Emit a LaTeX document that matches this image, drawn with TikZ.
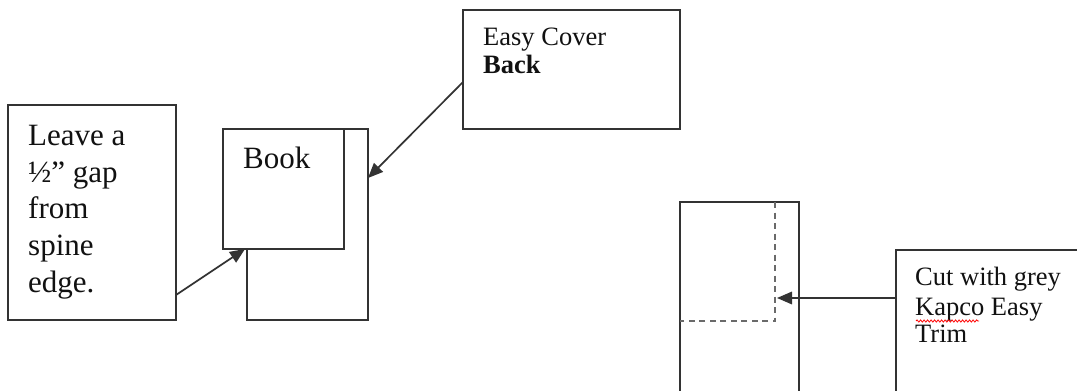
\documentclass[tikz,border=0pt]{standalone}
\usepackage{fontspec}
\setmainfont{Liberation Serif}
\usetikzlibrary{arrows.meta,calc,decorations.pathmorphing}
\definecolor{boxline}{HTML}{333333}
\definecolor{dashgrey}{HTML}{6A6A6A}
\definecolor{txt}{HTML}{111111}
\tikzset{
  box/.style={draw=boxline, line width=1.8pt, inner sep=0pt, outer sep=0pt, rectangle},
  conn/.style={draw=boxline, line width=1.7pt, -{Triangle[length=15pt,width=12.5pt]}},
  cutline/.style={draw=dashgrey, line width=2.2pt, dash pattern=on 6pt off 4.5pt},
  bigtxt/.style={anchor=base west, inner sep=0pt, text=txt, font=\fontsize{31}{36}\selectfont},
  smalltxt/.style={anchor=base west, inner sep=0pt, text=txt, font=\fontsize{26.5}{29}\selectfont},
}
\begin{document}
\begin{tikzpicture}[x=1pt,y=-1pt]
\useasboundingbox[fill=white] (0,0) rectangle (1077,391);
% boxes
\node[box, minimum width=168pt, minimum height=215pt] (left) at (92,212.5) {};
\node[box, minimum width=121pt, minimum height=191pt] (back) at (307.5,224.5) {};
\node[box, fill=white, minimum width=121pt, minimum height=120pt] (front) at (283.5,189) {};
\node[box, minimum width=217pt, minimum height=119pt] (cover) at (571.5,69.5) {};
\node[box, minimum width=119pt, minimum height=258pt] (trim) at (739.5,331) {};
\node[box, minimum width=194pt, minimum height=210pt] (cut) at (993,355) {};
% dashed cut line
\draw[cutline] ([xshift=95pt]trim.north west) -- ([xshift=95pt,yshift=-119pt]trim.north west) -- ([yshift=-119pt]trim.north west);
\coordinate (dashV) at ([xshift=97pt,yshift=-96pt]trim.north west);
% texts
\node[bigtxt] (l1) at (28,145) {Leave a};
\node[bigtxt] (l2) at (28,182) {½” gap};
\node[bigtxt] (l3) at (28,218) {from};
\node[bigtxt] (l4) at (28,255) {spine};
\node[bigtxt] (l5) at (28,292) {edge.};
\node[bigtxt] (book) at (243,168) {Book};
\node[smalltxt] (c1) at (483,45) {Easy Cover};
\node[smalltxt, font=\fontsize{26.5}{29}\selectfont\bfseries] (c2) at (483,73) {Back};
\node[smalltxt] (k1) at (915,285) {Cut with grey};
\node[smalltxt] (k2) at (915,315) {Kapco Easy};
\node[smalltxt] (k3) at (915,342) {Trim};
\draw[red, line width=0.8pt, decoration={snake, segment length=3.5pt, amplitude=1.1pt}, decorate] (916,321) -- (979,321);
% connectors
\draw[conn] ([yshift=25pt]left.south east) -- ([xshift=22pt]front.south west);
\draw[conn] ([yshift=47pt]cover.south west) -- ([yshift=-49pt]back.north east);
\draw[conn] ([yshift=-48pt]cut.north west) -- (dashV);
\end{tikzpicture}
\end{document}
